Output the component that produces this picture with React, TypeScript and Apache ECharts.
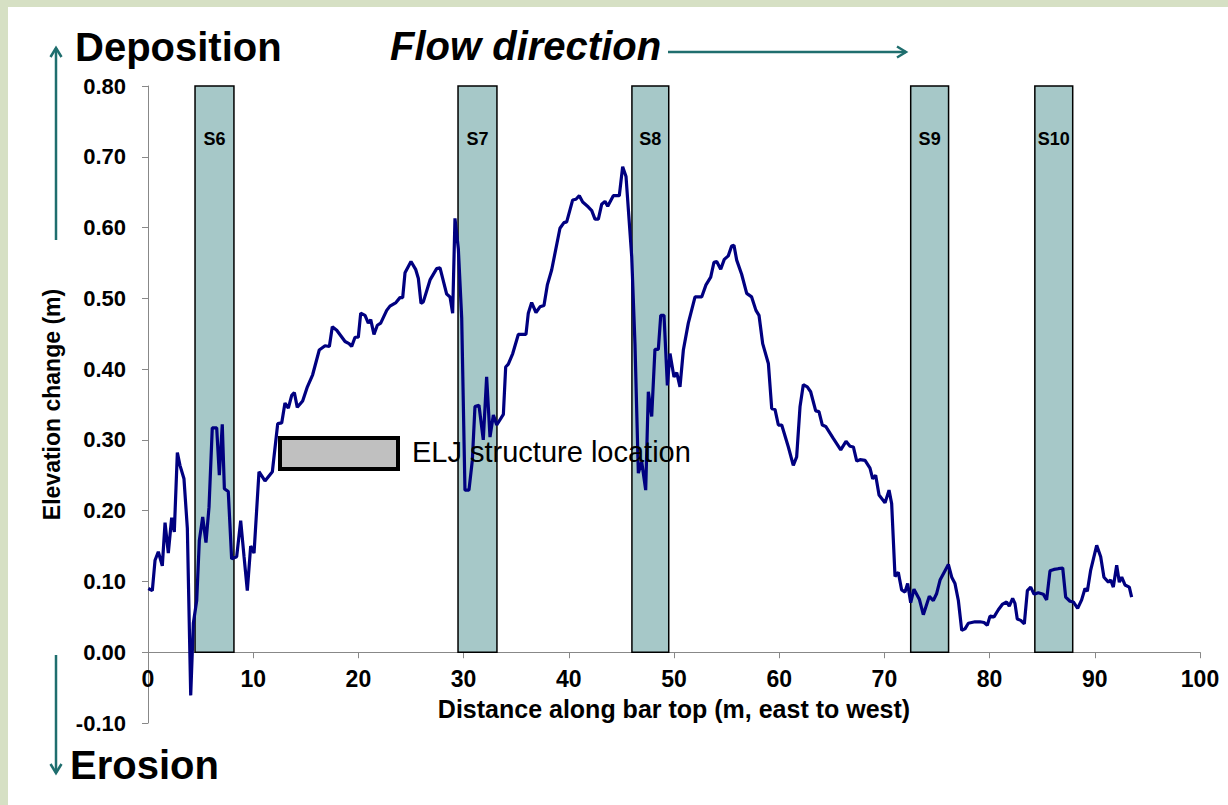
import React, { useEffect, useRef } from "react";
import * as echarts from "echarts";

const FONT = "'Liberation Sans', Arial, sans-serif";

const distance = [
  0.03, 0.41, 0.67, 0.98, 1.36, 1.62, 1.93, 2.25, 2.5, 2.79, 3.04, 3.42, 3.74, 4.06, 4.31, 4.63, 4.88, 5.2, 5.51, 5.8,
  6.11, 6.53, 6.78, 7.06, 7.26, 7.63, 7.95, 8.43, 8.81, 9.13, 9.44, 9.76, 10.08, 10.55, 11.12, 11.82, 12.33, 12.71, 13.02, 13.34,
  13.66, 13.91, 14.19, 14.7, 15.15, 15.65, 16.28, 16.83, 17.24, 17.52, 17.94, 18.73, 19.11, 19.36, 19.68, 19.99, 20.22, 20.63, 20.94, 21.17,
  21.48, 21.8, 22.12, 22.69, 23.0, 23.57, 23.95, 24.21, 24.43, 25.0, 25.44, 25.7, 25.95, 26.17, 26.81, 27.44, 27.76, 28.39, 28.71, 28.96,
  29.18, 29.5, 29.82, 30.13, 30.51, 30.83, 31.08, 31.46, 31.87, 32.19, 32.51, 32.83, 33.15, 33.78, 34.0, 34.25, 34.67, 35.2, 35.93, 36.15,
  36.47, 36.88, 37.26, 37.64, 37.96, 38.37, 39.16, 39.54, 39.8, 40.37, 40.68, 41.0, 41.32, 41.86, 42.18, 42.49, 42.81, 43.13, 43.44, 43.7,
  44.23, 44.8, 45.12, 45.44, 45.98, 46.29, 46.61, 46.93, 47.31, 47.56, 47.88, 48.19, 48.51, 48.74, 49.05, 49.37, 49.62, 50.0, 50.26, 50.57,
  50.89, 51.36, 52.0, 52.63, 53.04, 53.49, 53.8, 54.06, 54.44, 54.78, 55.16, 55.48, 55.7, 55.96, 56.43, 56.91, 57.38, 57.79, 58.08, 58.43,
  58.97, 59.29, 59.6, 59.92, 60.24, 60.87, 61.34, 61.66, 61.98, 62.29, 62.67, 62.99, 63.47, 63.78, 64.1, 64.42, 65.14, 65.85, 66.35, 66.73,
  67.05, 67.37, 67.68, 68.16, 68.63, 68.89, 69.17, 69.49, 70.06, 70.44, 70.69, 71.01, 71.32, 71.64, 71.96, 72.21, 72.5, 72.81, 73.32, 73.7,
  74.27, 74.65, 74.97, 75.29, 76.08, 76.4, 76.71, 77.03, 77.35, 77.66, 77.98, 78.61, 79.09, 79.47, 79.78, 80.04, 80.42, 80.83, 81.24, 81.62,
  81.87, 82.19, 82.41, 82.63, 82.96, 83.3, 83.59, 83.91, 84.22, 84.63, 85.1, 85.42, 85.74, 86.12, 86.53, 86.95, 87.23, 87.64, 87.96, 88.37,
  88.75, 89.07, 89.29, 89.61, 90.18, 90.56, 90.87, 91.29, 91.51, 91.76, 92.08, 92.33, 92.56, 92.87, 93.28, 93.5,
];

const elevation = [
  0.09, 0.087, 0.13, 0.142, 0.122, 0.183, 0.14, 0.19, 0.17, 0.282, 0.264, 0.245, 0.175, -0.061, 0.041, 0.073, 0.158, 0.191, 0.155, 0.205,
  0.317, 0.317, 0.25, 0.322, 0.231, 0.227, 0.132, 0.135, 0.186, 0.135, 0.087, 0.15, 0.14, 0.255, 0.242, 0.255, 0.323, 0.324, 0.352, 0.345,
  0.363, 0.367, 0.346, 0.355, 0.375, 0.392, 0.427, 0.433, 0.432, 0.46, 0.455, 0.439, 0.436, 0.432, 0.445, 0.445, 0.479, 0.476, 0.465, 0.47,
  0.449, 0.462, 0.465, 0.483, 0.489, 0.494, 0.501, 0.501, 0.536, 0.552, 0.541, 0.528, 0.493, 0.495, 0.526, 0.542, 0.543, 0.506, 0.502, 0.479,
  0.613, 0.57, 0.472, 0.229, 0.229, 0.271, 0.347, 0.349, 0.3, 0.389, 0.304, 0.335, 0.321, 0.336, 0.403, 0.407, 0.422, 0.449, 0.449, 0.479,
  0.494, 0.48, 0.488, 0.49, 0.519, 0.54, 0.599, 0.607, 0.608, 0.639, 0.64, 0.645, 0.636, 0.629, 0.624, 0.612, 0.612, 0.633, 0.637, 0.63,
  0.645, 0.645, 0.686, 0.672, 0.559, 0.436, 0.253, 0.269, 0.229, 0.368, 0.333, 0.428, 0.428, 0.476, 0.476, 0.377, 0.422, 0.389, 0.395, 0.375,
  0.427, 0.465, 0.502, 0.502, 0.519, 0.53, 0.551, 0.552, 0.541, 0.555, 0.56, 0.574, 0.575, 0.554, 0.534, 0.507, 0.502, 0.483, 0.476, 0.436,
  0.408, 0.344, 0.343, 0.321, 0.321, 0.29, 0.264, 0.276, 0.347, 0.378, 0.375, 0.368, 0.341, 0.34, 0.321, 0.319, 0.302, 0.286, 0.298, 0.291,
  0.29, 0.27, 0.272, 0.271, 0.26, 0.245, 0.25, 0.222, 0.211, 0.229, 0.21, 0.107, 0.113, 0.088, 0.085, 0.097, 0.07, 0.089, 0.075, 0.053,
  0.079, 0.073, 0.083, 0.102, 0.124, 0.106, 0.097, 0.073, 0.031, 0.033, 0.041, 0.043, 0.043, 0.042, 0.038, 0.051, 0.05, 0.06, 0.068, 0.071,
  0.065, 0.076, 0.069, 0.047, 0.045, 0.04, 0.087, 0.092, 0.082, 0.084, 0.082, 0.074, 0.115, 0.117, 0.118, 0.119, 0.078, 0.072, 0.071, 0.062,
  0.074, 0.09, 0.086, 0.116, 0.151, 0.135, 0.106, 0.099, 0.102, 0.092, 0.123, 0.099, 0.106, 0.095, 0.092, 0.078,
];

const bandLabels = ["S6", "S7", "S8", "S9", "S10"];
const bandStarts = [4.47, 29.47, 46.0, 72.5, 84.3];
const bandEnds = [8.17, 33.17, 49.5, 76.1, 87.9];
const bandBottom = 0;
const bandTop = 0.8;

const yTicks = { min: -0.1, max: 0.8, interval: 0.1 };
const xTicks = { min: 0, max: 100, interval: 10 };

const TEAL = "#1f6e6e";

export default function App() {
  const ref = useRef<HTMLDivElement>(null);

  useEffect(() => {
    if (!ref.current) return;
    const chart = echarts.init(ref.current, undefined, { renderer: "svg" });

    const lineData = distance.map((d, i) => [d, elevation[i]]);
    const areas = bandLabels.map((name, i) => [
      { name, xAxis: bandStarts[i], yAxis: bandBottom },
      { xAxis: bandEnds[i], yAxis: bandTop },
    ]);

    const boldText = { fontFamily: FONT, fontWeight: "bold", color: "#000" };

    chart.setOption({
      animation: false,
      backgroundColor: "#ffffff",
      grid: { left: 148, right: 28, top: 86, bottom: 82, containLabel: false },
      xAxis: {
        type: "value",
        min: xTicks.min,
        max: xTicks.max,
        interval: xTicks.interval,
        axisLine: { onZero: true, lineStyle: { color: "#888", width: 1 } },
        axisTick: { show: true, length: 6, lineStyle: { color: "#888" } },
        axisLabel: { ...boldText, fontSize: 23, margin: -56 },
        splitLine: { show: false },
        name: "Distance along bar top (m, east to west)",
        nameLocation: "middle",
        nameGap: -27,
        nameTextStyle: { ...boldText, fontSize: 25 },
      },
      yAxis: {
        type: "value",
        min: yTicks.min,
        max: yTicks.max,
        interval: yTicks.interval,
        axisLine: { show: true, lineStyle: { color: "#888", width: 1 } },
        axisTick: { show: true, length: 6, lineStyle: { color: "#888" } },
        axisLabel: { ...boldText, fontSize: 22, margin: 22, formatter: (v: number) => v.toFixed(2) },
        splitLine: { show: false },
        name: "Elevation change (m)",
        nameLocation: "middle",
        nameRotate: 90,
        nameGap: 85,
        nameTextStyle: { ...boldText, fontSize: 23 },
      },
      series: [
        {
          type: "line",
          data: [],
          z: 1,
          silent: true,
          markArea: {
            silent: true,
            itemStyle: { color: "#a6c8c8", borderColor: "#000", borderWidth: 1.5 },
            label: { show: true, position: "insideTop", distance: 45, ...boldText, fontSize: 18 },
            data: areas,
          },
        },
        {
          type: "line",
          data: lineData,
          z: 5,
          showSymbol: false,
          lineStyle: { color: "#000080", width: 3.2 },
          itemStyle: { color: "#000080" },
        },
      ],
      graphic: [
        { type: "rect", silent: true, z: 100, shape: { x: 0, y: 0, width: 1228, height: 7 }, style: { fill: "#d6e0c4" } },
        { type: "rect", silent: true, z: 100, shape: { x: 0, y: 0, width: 8, height: 805 }, style: { fill: "#d6e0c4" } },
        {
          type: "text", z: 100, x: 75, y: 47,
          style: { text: "Deposition", font: `bold 40px ${FONT}`, fill: "#000", verticalAlign: "middle" },
        },
        {
          type: "text", z: 100, x: 390, y: 46,
          style: { text: "Flow direction", font: `italic bold 40px ${FONT}`, fill: "#000", verticalAlign: "middle" },
        },
        {
          type: "text", z: 100, x: 70, y: 765,
          style: { text: "Erosion", font: `bold 40px ${FONT}`, fill: "#000", verticalAlign: "middle" },
        },
        { type: "line", z: 100, shape: { x1: 56, y1: 240, x2: 56, y2: 48 }, style: { stroke: TEAL, lineWidth: 2.5 } },
        { type: "polyline", z: 100, shape: { points: [[50.5, 57], [56, 48], [61.5, 57]] }, style: { stroke: TEAL, lineWidth: 2.5, fill: null } },
        { type: "line", z: 100, shape: { x1: 56, y1: 655, x2: 56, y2: 773 }, style: { stroke: TEAL, lineWidth: 2.5 } },
        { type: "polyline", z: 100, shape: { points: [[50.5, 764], [56, 773], [61.5, 764]] }, style: { stroke: TEAL, lineWidth: 2.5, fill: null } },
        { type: "line", z: 100, shape: { x1: 668, y1: 52, x2: 906, y2: 52 }, style: { stroke: TEAL, lineWidth: 2.5 } },
        { type: "polyline", z: 100, shape: { points: [[897, 46.5], [906, 52], [897, 57.5]] }, style: { stroke: TEAL, lineWidth: 2.5, fill: null } },
        {
          type: "rect", z: 100, shape: { x: 280, y: 438, width: 118, height: 31 },
          style: { fill: "#c0c0c0", stroke: "#000", lineWidth: 4 },
        },
        {
          type: "text", z: 100, x: 412, y: 452,
          style: { text: "ELJ structure location", font: `29px ${FONT}`, fill: "#000", verticalAlign: "middle" },
        },
      ],
    });

    return () => chart.dispose();
  }, []);

  return (
    <div
      ref={ref}
      style={{ position: "fixed", left: 0, top: 0, width: 1228, height: 805, background: "#fff" }}
    />
  );
}
